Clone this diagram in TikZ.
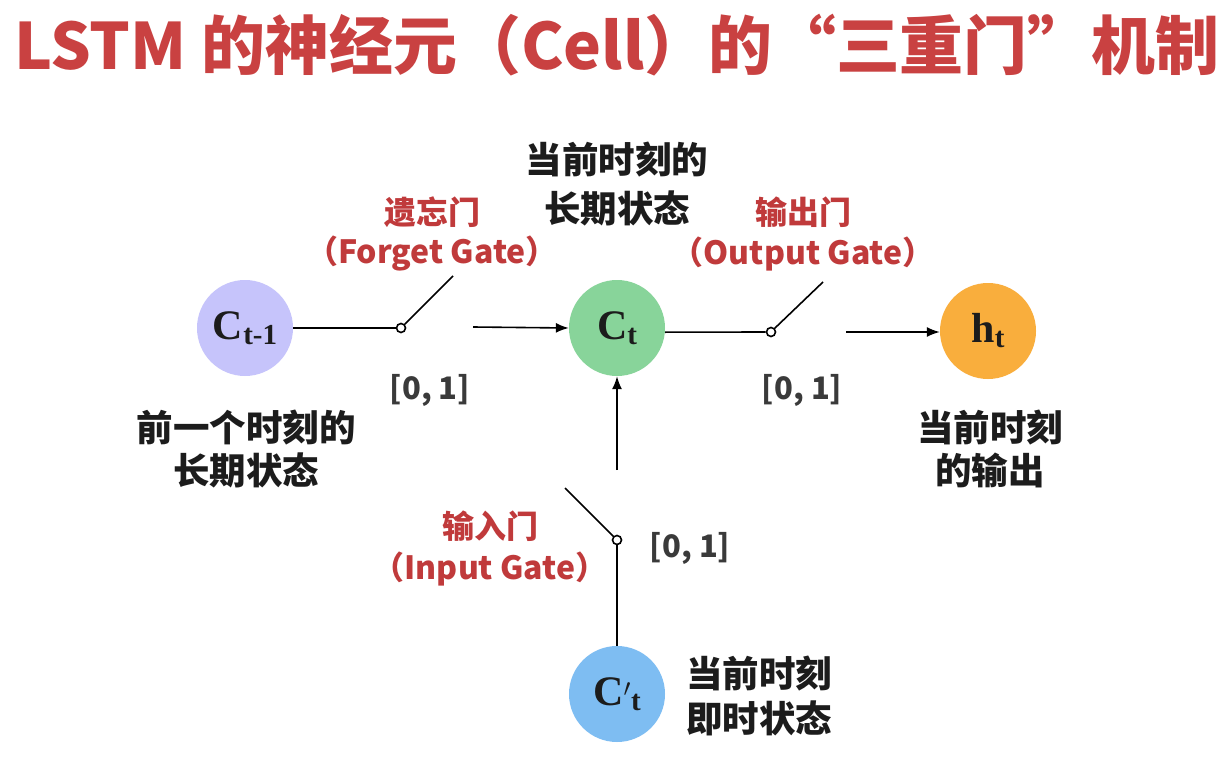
\documentclass[tikz,border=0pt]{standalone}
\usepackage{fontspec}
\usepackage{graphicx}
\newfontfamily\cjk{Noto Sans CJK SC}
\newfontfamily\tms{Liberation Serif}
\usetikzlibrary{arrows.meta}
\definecolor{tred}{HTML}{C94141}
\definecolor{lred}{HTML}{C03A3B}
\definecolor{txt}{HTML}{1C1C1C}
\definecolor{gry}{HTML}{3A3A3A}
\definecolor{cprev}{HTML}{C6C4FB}
\definecolor{ccur}{HTML}{88D49A}
\definecolor{cout}{HTML}{F9AE3D}
\definecolor{cnew}{HTML}{7EBDF2}
\tikzset{
  cell/.style={circle,minimum size=96pt,inner sep=0pt,text=txt},
  pivot/.style={circle,draw=black,line width=1.6pt,fill=white,minimum size=9pt,inner sep=0pt},
  wire/.style={line width=1.6pt,black},
  arr/.style={wire,-{Latex[length=13pt,width=10pt]}},
  lbl/.style={font=\cjk\bfseries\fontsize{36.5}{36.5}\selectfont,text=txt,inner sep=0pt},
  gate/.style={font=\cjk\bfseries\fontsize{32}{32}\selectfont,text=lred,inner sep=0pt},
  rng/.style={font=\cjk\bfseries\fontsize{31}{31}\selectfont,text=gry,inner sep=0pt},
}
\newcommand{\cellfont}{\tms\bfseries\fontsize{42}{42}\selectfont}
\newcommand{\subfont}{\tms\bfseries\fontsize{29}{29}\selectfont}
\begin{document}
\begin{tikzpicture}[x=1pt,y=-1pt]
\useasboundingbox[fill=white] (0,0) rectangle (1230,759);
% title
\node[inner sep=0pt,text=tred,font=\cjk\bfseries\fontsize{60}{60}\selectfont] (title) at (617,45) {\resizebox{1205pt}{!}{LSTM 的神经元（Cell）的“三重门”机制}};
% cells
\node[cell,fill=cprev] (cprev) at (245,328) {\cellfont C\raisebox{-5pt}{\subfont t-1}};
\node[cell,fill=ccur] (ccur) at (617,328) {\cellfont C\raisebox{-5pt}{\subfont t}};
\node[cell,fill=cout] (hout) at (988,331) {\cellfont h\raisebox{-5pt}{\subfont t}};
\node[cell,fill=cnew] (cnew) at (617,694) {\cellfont C$'$\raisebox{-5pt}{\subfont t}};
% forget gate switch
\node[pivot] (fp) at (401,328) {};
\coordinate (farm) at (453,276);
\coordinate (fout) at (473,327);
\draw[wire] (cprev.east) -- (fp.west);
\draw[wire] (fp.north east) -- (farm);
\draw[arr] (fout) -- (ccur.west);
% output gate switch
\node[pivot] (op) at (771,332) {};
\coordinate (oarm) at (823,282);
\coordinate (oout) at (846,332);
\draw[wire] (ccur.-5) -- (op.west);
\draw[wire] (op.north east) -- (oarm);
\draw[arr] (oout) -- (hout.west |- oout);
% input gate switch
\node[pivot] (ip) at (617,540) {};
\coordinate (iarm) at (565,488);
\coordinate (iout) at (617,470);
\draw[wire] (cnew.north) -- (ip.south);
\draw[wire] (ip.north west) -- (iarm);
\draw[arr] (iout) -- (ccur.south);
% labels
\node[gate] (fg1) at (432,212) {遗忘门};
\node[gate] (fg2) at (432,254) {（Forget Gate）};
\node[gate] (og1) at (803,212) {输出门};
\node[gate] (og2) at (803,254) {（Output Gate）};
\node[gate] (ig1) at (490,526) {输入门};
\node[gate] (ig2) at (490,569) {（Input Gate）};
\node[lbl] (cur1) at (617,160) {当前时刻的};
\node[lbl] (cur2) at (617,208) {长期状态};
\node[lbl] (prev1) at (246,428) {前一个时刻的};
\node[lbl] (prev2) at (246,470) {长期状态};
\node[lbl] (out1) at (990,428) {当前时刻};
\node[lbl] (out2) at (990,470) {的输出};
\node[lbl,anchor=west] (new1) at (686,674) {当前时刻};
\node[lbl,anchor=west] (new2) at (686,718) {即时状态};
\node[rng] (r1) at (430,390) {[0, 1]};
\node[rng] (r2) at (802,390) {[0, 1]};
\node[rng] (r3) at (690,548) {[0, 1]};
\end{tikzpicture}
\end{document}
